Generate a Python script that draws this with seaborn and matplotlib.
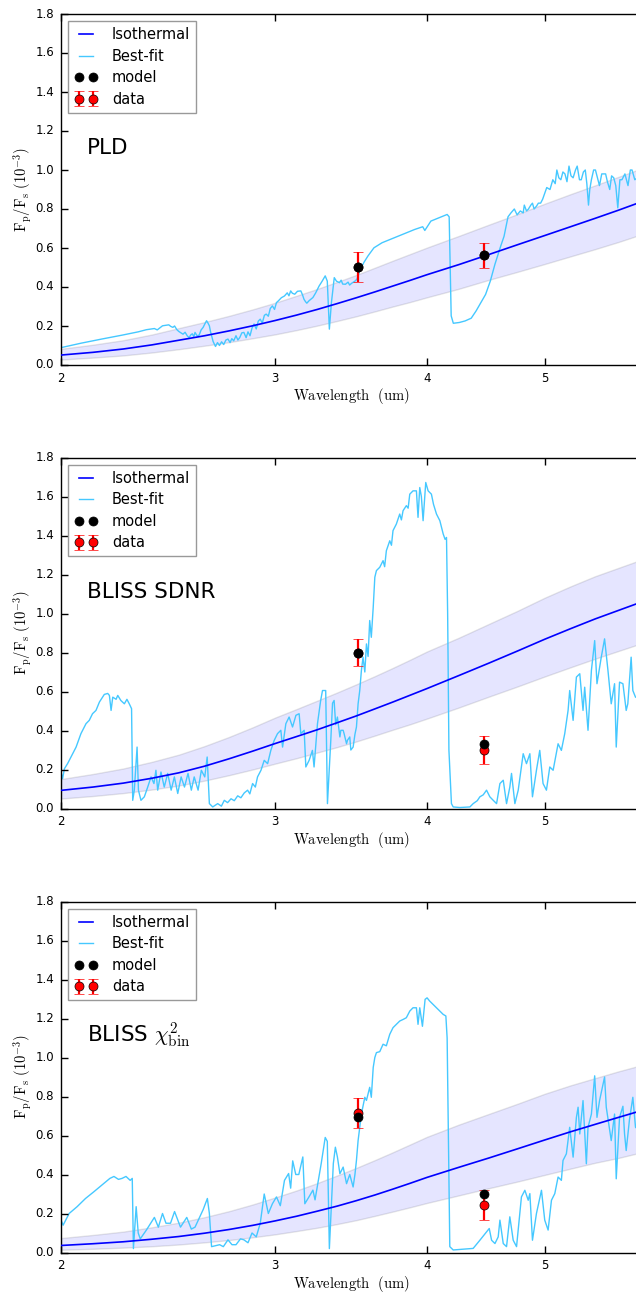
import numpy as np
import pandas as pd
import matplotlib
matplotlib.use("Agg")
import matplotlib.pyplot as plt
from matplotlib.ticker import NullLocator, FixedLocator, FixedFormatter
from matplotlib.lines import Line2D
import seaborn as sns

plt.style.use("classic")
plt.rcParams.update({
    "figure.facecolor": "white",
    "savefig.facecolor": "white",
    "font.family": ["DejaVu Sans"],
    "mathtext.fontset": "cm",
})

# ---------------------------------------------------------------- data
grid_wl = [2.0, 2.125, 2.25, 2.375, 2.5, 2.625, 2.75, 2.875, 3.0, 3.125,
           3.25, 3.375, 3.5, 3.625, 3.75, 3.875, 4.0, 4.25, 4.5, 4.75,
           5.0, 5.25, 5.5, 5.75, 6.0]

iso_pld = [.051, .065, .082, .103, .127, .150, .175, .201, .228, .256,
           .285, .315, .345, .375, .405, .434, .463, .515, .567, .617,
           .664, .709, .752, .794, .836]
iso_pld_hi = [.083, .104, .127, .156, .189, .220, .252, .285, .319, .355,
              .390, .426, .462, .499, .535, .569, .602, .662, .720, .774,
              .827, .876, .921, .965, 1.007]
iso_pld_lo = [.028, .038, .049, .064, .081, .099, .117, .137, .157, .179,
              .202, .226, .250, .275, .300, .323, .347, .391, .437, .478,
              .518, .557, .594, .631, .669]

iso_sdnr = [.093, .110, .130, .155, .183, .217, .255, .294, .333, .369,
            .404, .440, .475, .511, .546, .581, .615, .682, .746, .808,
            .868, .922, .972, 1.016, 1.058]
iso_sdnr_hi = [.151, .177, .205, .239, .276, .320, .367, .416, .466, .510,
               .553, .595, .637, .679, .721, .763, .805, .876, .947, 1.014,
               1.081, 1.139, 1.191, 1.234, 1.275]
iso_sdnr_lo = [.051, .064, .079, .097, .118, .143, .171, .200, .230, .258,
               .287, .315, .344, .374, .404, .432, .461, .518, .574, .626,
               .677, .724, .768, .808, .846]

iso_chi = [.036, .045, .055, .068, .082, .099, .118, .139, .162, .186,
           .212, .238, .266, .295, .325, .355, .385, .437, .485, .532,
           .577, .619, .657, .693, .727]
iso_chi_hi = [.074, .090, .107, .129, .153, .181, .212, .246, .282, .318,
              .356, .395, .434, .474, .514, .554, .593, .656, .711, .763,
              .814, .857, .894, .929, .960]
iso_chi_lo = [.014, .019, .025, .032, .041, .052, .064, .078, .093, .110,
              .127, .146, .166, .188, .210, .232, .254, .293, .330, .364,
              .398, .430, .460, .485, .513]

# best-fit emission spectra
spec_pld_wl = [
    2.000, 2.078, 2.160, 2.245, 2.315, 2.351, 2.387, 2.400, 2.424, 2.453,
    2.462, 2.472, 2.480, 2.491, 2.500, 2.510, 2.520, 2.530, 2.540, 2.549,
    2.558, 2.565, 2.572, 2.578, 2.588, 2.598, 2.608, 2.618, 2.626, 2.635,
    2.642, 2.649, 2.655, 2.660, 2.668, 2.680, 2.690, 2.700, 2.711, 2.722,
    2.733, 2.744, 2.755, 2.764, 2.774, 2.786, 2.796, 2.806, 2.817, 2.828,
    2.840, 2.850, 2.861, 2.872, 2.883, 2.895, 2.906, 2.917, 2.928, 2.940,
    2.950, 2.962, 2.973, 2.985, 2.997, 3.008, 3.019, 3.036, 3.054, 3.070,
    3.080, 3.090, 3.100, 3.114, 3.130, 3.150, 3.160, 3.169, 3.178, 3.186,
    3.200, 3.223, 3.240, 3.261, 3.280, 3.299, 3.312, 3.325, 3.338, 3.356,
    3.370, 3.389, 3.400, 3.410, 3.428, 3.445, 3.455, 3.468, 3.480, 3.490,
    3.503, 3.522, 3.549, 3.577, 3.618, 3.674, 3.731, 3.789, 3.848, 3.908,
    3.968, 3.984, 4.030, 4.093, 4.156, 4.172, 4.180, 4.188, 4.205, 4.253,
    4.300, 4.350, 4.390, 4.430, 4.470, 4.510, 4.550, 4.600, 4.629, 4.664,
    4.690, 4.720, 4.745, 4.774, 4.800, 4.810, 4.830, 4.847, 4.870, 4.885,
    4.900, 4.923, 4.940, 4.961, 4.980, 5.019, 5.050, 5.077, 5.100, 5.116,
    5.135, 5.155, 5.175, 5.195, 5.215, 5.235, 5.255, 5.276, 5.300, 5.317,
    5.340, 5.358, 5.380, 5.399, 5.415, 5.432, 5.445, 5.462, 5.485, 5.504,
    5.525, 5.546, 5.570, 5.611, 5.630, 5.655, 5.675, 5.698, 5.720, 5.742,
    5.765, 5.787, 5.820, 5.854, 5.880, 5.899, 5.930, 5.958, 6.000]
spec_pld = [
    .089, .112, .133, .153, .170, .181, .187, .180, .201, .206,
    .198, .193, .200, .181, .172, .165, .158, .168, .150, .141,
    .155, .160, .145, .167, .150, .153, .180, .193, .210, .227,
    .215, .201, .170, .150, .120, .095, .115, .100, .119, .105,
    .128, .133, .115, .135, .124, .150, .128, .141, .165, .167,
    .140, .170, .150, .190, .210, .185, .225, .235, .215, .255,
    .261, .250, .290, .303, .285, .320, .329, .345, .354, .370,
    .355, .380, .368, .363, .378, .380, .360, .337, .325, .317,
    .330, .346, .370, .405, .430, .457, .430, .184, .320, .448,
    .430, .422, .435, .415, .414, .425, .410, .419, .425, .430,
    .440, .482, .525, .559, .601, .627, .644, .661, .678, .695,
    .709, .690, .738, .755, .772, .760, .500, .252, .214, .218,
    .226, .240, .277, .320, .362, .430, .517, .610, .660, .760,
    .780, .800, .770, .790, .780, .820, .790, .799, .820, .830,
    .800, .815, .830, .830, .850, .910, .900, .950, .930, 1.000,
    .960, .950, .990, .980, .940, 1.020, .970, .960, 1.000, 1.020,
    .950, .950, .990, 1.000, .930, .820, .900, .950, 1.000, 1.000,
    .960, .920, .980, .980, .940, .900, .970, .960, .920, .806,
    .950, .950, .980, .920, 1.000, 1.000, .950, .960, .990]

spec_sdnr_wl = [
    2.000, 2.006, 2.013, 2.025, 2.038, 2.058, 2.077, 2.097, 2.110, 2.123,
    2.137, 2.151, 2.171, 2.185, 2.192, 2.199, 2.206, 2.220, 2.227, 2.240,
    2.255, 2.266, 2.276, 2.286, 2.291, 2.298, 2.310, 2.316, 2.327, 2.342,
    2.357, 2.372, 2.385, 2.394, 2.402, 2.417, 2.432, 2.448, 2.464, 2.479,
    2.495, 2.511, 2.527, 2.544, 2.560, 2.574, 2.593, 2.609, 2.626, 2.638,
    2.649, 2.666, 2.691, 2.710, 2.725, 2.742, 2.760, 2.777, 2.795, 2.812,
    2.830, 2.848, 2.860, 2.875, 2.890, 2.902, 2.921, 2.939, 2.958, 2.976,
    2.995, 3.014, 3.033, 3.043, 3.062, 3.081, 3.101, 3.121, 3.140, 3.150,
    3.170, 3.180, 3.200, 3.220, 3.230, 3.251, 3.270, 3.282, 3.302, 3.313,
    3.334, 3.345, 3.355, 3.365, 3.376, 3.392, 3.398, 3.413, 3.419, 3.435,
    3.441, 3.456, 3.463, 3.478, 3.490, 3.500, 3.511, 3.522, 3.533, 3.544,
    3.556, 3.567, 3.578, 3.589, 3.600, 3.613, 3.624, 3.635, 3.658, 3.681,
    3.692, 3.704, 3.728, 3.740, 3.751, 3.775, 3.799, 3.811, 3.823, 3.847,
    3.860, 3.872, 3.896, 3.921, 3.933, 3.946, 3.958, 3.971, 3.991, 4.009,
    4.034, 4.050, 4.073, 4.099, 4.125, 4.140, 4.151, 4.160, 4.170, 4.190,
    4.204, 4.257, 4.339, 4.366, 4.400, 4.422, 4.450, 4.478, 4.506, 4.535,
    4.564, 4.593, 4.622, 4.651, 4.680, 4.695, 4.725, 4.755, 4.780, 4.800,
    4.830, 4.861, 4.885, 4.922, 4.953, 4.984, 5.016, 5.048, 5.080, 5.128,
    5.160, 5.193, 5.226, 5.242, 5.276, 5.309, 5.343, 5.376, 5.393, 5.427,
    5.462, 5.496, 5.520, 5.565, 5.600, 5.636, 5.671, 5.707, 5.725, 5.761,
    5.798, 5.816, 5.834, 5.852, 5.889, 5.908, 5.938, 6.000]
spec_sdnr = [
    .187, .153, .204, .230, .264, .315, .384, .435, .452, .486,
    .503, .546, .585, .590, .580, .503, .571, .560, .580, .554,
    .537, .560, .537, .512, .042, .094, .315, .094, .042, .060,
    .110, .162, .128, .196, .094, .187, .110, .180, .094, .162,
    .077, .162, .110, .180, .094, .162, .094, .196, .162, .264,
    .025, .008, .025, .012, .042, .030, .050, .040, .065, .055,
    .080, .094, .075, .128, .110, .162, .196, .247, .230, .298,
    .349, .384, .401, .315, .435, .469, .418, .478, .486, .384,
    .401, .213, .247, .298, .213, .435, .550, .605, .605, .025,
    .349, .540, .554, .430, .469, .367, .401, .401, .384, .332,
    .350, .367, .300, .315, .380, .418, .537, .605, .708, .776,
    .700, .844, .780, .964, .878, 1.032, 1.186, 1.220, 1.237, 1.271,
    1.240, 1.322, 1.373, 1.350, 1.425, 1.459, 1.510, 1.480, 1.527, 1.553,
    1.540, 1.612, 1.629, 1.629, 1.493, 1.646, 1.600, 1.476, 1.672, 1.629,
    1.612, 1.560, 1.510, 1.476, 1.408, 1.380, 1.390, 1.000, .300, .025,
    .008, .005, .008, .025, .040, .060, .070, .094, .060, .042,
    .025, .128, .145, .025, .110, .180, .025, .094, .200, .281,
    .230, .281, .060, .196, .298, .128, .094, .213, .196, .332,
    .298, .384, .503, .605, .452, .674, .691, .503, .622, .401,
    .708, .861, .640, .776, .870, .708, .537, .640, .315, .648,
    .640, .571, .503, .537, .776, .605, .571, .560]

spec_chi_wl = [
    2.000, 2.008, 2.031, 2.062, 2.095, 2.127, 2.160, 2.194, 2.211, 2.230,
    2.245, 2.262, 2.280, 2.289, 2.294, 2.306, 2.315, 2.324, 2.351, 2.387,
    2.405, 2.424, 2.440, 2.461, 2.480, 2.508, 2.538, 2.560, 2.578, 2.600,
    2.618, 2.639, 2.649, 2.660, 2.701, 2.720, 2.744, 2.765, 2.786, 2.810,
    2.828, 2.850, 2.872, 2.895, 2.917, 2.939, 2.962, 2.985, 3.008, 3.030,
    3.054, 3.078, 3.090, 3.102, 3.120, 3.138, 3.162, 3.174, 3.199, 3.223,
    3.236, 3.274, 3.299, 3.312, 3.325, 3.350, 3.363, 3.376, 3.392, 3.413,
    3.435, 3.456, 3.478, 3.490, 3.500, 3.511, 3.522, 3.533, 3.556, 3.567,
    3.589, 3.600, 3.613, 3.624, 3.635, 3.658, 3.681, 3.704, 3.728, 3.751,
    3.775, 3.799, 3.823, 3.847, 3.872, 3.896, 3.921, 3.933, 3.946, 3.966,
    3.986, 4.001, 4.020, 4.047, 4.073, 4.099, 4.125, 4.146, 4.156, 4.177,
    4.204, 4.366, 4.422, 4.478, 4.501, 4.521, 4.550, 4.578, 4.593, 4.622,
    4.651, 4.680, 4.710, 4.740, 4.784, 4.815, 4.846, 4.861, 4.885, 4.922,
    4.969, 5.000, 5.032, 5.064, 5.096, 5.128, 5.160, 5.176, 5.209, 5.242,
    5.276, 5.309, 5.326, 5.343, 5.376, 5.410, 5.427, 5.462, 5.496, 5.520,
    5.547, 5.600, 5.618, 5.671, 5.707, 5.725, 5.761, 5.798, 5.816, 5.834,
    5.870, 5.908, 5.938, 6.000]
spec_chi = [
    .167, .140, .200, .235, .277, .310, .345, .380, .390, .375,
    .380, .390, .370, .380, .020, .235, .100, .070, .115, .180,
    .130, .200, .150, .150, .210, .130, .180, .120, .130, .180,
    .220, .277, .200, .030, .040, .030, .065, .040, .040, .070,
    .065, .050, .100, .080, .150, .300, .200, .250, .285, .240,
    .370, .405, .330, .470, .400, .400, .490, .250, .285, .320,
    .270, .456, .590, .570, .020, .456, .540, .490, .404, .438,
    .353, .400, .336, .400, .472, .574, .642, .710, .796, .780,
    .847, .796, .949, 1.000, 1.025, 1.030, 1.068, 1.060, 1.119, 1.153,
    1.170, 1.187, 1.195, 1.204, 1.238, 1.255, 1.255, 1.170, 1.255, 1.160,
    1.298, 1.306, 1.290, 1.272, 1.255, 1.238, 1.221, 1.213, 1.100, .030,
    .013, .021, .063, .106, .123, .063, .046, .080, .166, .046,
    .030, .183, .063, .030, .285, .319, .268, .302, .063, .200,
    .319, .166, .115, .268, .302, .387, .370, .472, .506, .642,
    .489, .693, .745, .608, .779, .455, .642, .710, .906, .693,
    .779, .900, .745, .574, .710, .378, .693, .750, .608, .523,
    .680, .796, .642, .620]

# Spitzer photometry: measured eclipse depths and binned model values
phot_wl = [3.51, 4.46]
data_pld = [0.501, 0.562]
err_pld = [0.077, 0.063]
model_pld = [0.503, 0.562]
data_sdnr = [0.800, 0.300]
err_sdnr = [0.068, 0.072]
model_sdnr = [0.800, 0.329]
data_chi = [0.715, 0.246]
err_chi = [0.078, 0.077]
model_chi = [0.697, 0.299]

panels = [
    ("PLD", iso_pld, iso_pld_lo, iso_pld_hi, spec_pld_wl, spec_pld,
     data_pld, err_pld, model_pld),
    ("BLISS SDNR", iso_sdnr, iso_sdnr_lo, iso_sdnr_hi, spec_sdnr_wl, spec_sdnr,
     data_sdnr, err_sdnr, model_sdnr),
    (r"BLISS $\chi^2_{\rm bin}$", iso_chi, iso_chi_lo, iso_chi_hi, spec_chi_wl,
     spec_chi, data_chi, err_chi, model_chi),
]

# ---------------------------------------------------------------- figure
fig = plt.figure(figsize=(6.36, 12.95), dpi=100)
W, H = 636.0, 1295.0
left, width, height = 61 / W, 580 / W, 351 / H
bottoms = [(H - 365) / H, (H - 808.5) / H, (H - 1252.5) / H]

iso_color = "#0000ff"
fit_color = "#45c8ff"

for (name, iso, lo, hi, swl, sval, dat, err, mod), b in zip(panels, bottoms):
    ax = fig.add_axes([left, b, width, height])
    ax.fill_between(grid_wl, lo, hi, facecolor="blue", edgecolor="black",
                    alpha=0.1, lw=1.0, zorder=1)
    sns.lineplot(x=grid_wl, y=iso, ax=ax, color=iso_color, lw=1.2,
                 sort=False, estimator=None, legend=False, zorder=3)
    sns.lineplot(x=swl, y=sval, ax=ax, color=fit_color, lw=1.0,
                 sort=False, estimator=None, legend=False, zorder=2)
    eb = ax.errorbar(phot_wl, dat, yerr=err, fmt="o", color="red",
                     ecolor="red", mec="k", mew=0.5, ms=6.5, elinewidth=1.6,
                     capsize=3.5, capthick=1.2, zorder=4)
    mline, = ax.plot(phot_wl, mod, "o", color="black", mec="k", ms=6.5,
                     zorder=5)

    ax.set_xscale("log")
    ax.set_xlim(2.0, 6.0)
    ax.set_ylim(0.0, 1.8)
    ax.xaxis.set_major_locator(FixedLocator([2, 3, 4, 5]))
    ax.xaxis.set_major_formatter(FixedFormatter(["2", "3", "4", "5"]))
    ax.xaxis.set_minor_locator(NullLocator())
    ax.set_yticks(np.arange(0, 1.81, 0.2))
    ax.set_yticklabels([f"{v:.1f}" for v in np.arange(0, 1.81, 0.2)])
    ax.tick_params(which="major", direction="in", length=5, width=1,
                   top=True, right=False, labelsize=8.5, pad=5)
    for sp in ax.spines.values():
        sp.set_linewidth(1.0)

    ax.set_xlabel(r"$\mathrm{Wavelength\ \ (um)}$", fontsize=10.5, labelpad=1)
    ax.set_ylabel(r"$\mathrm{F_p/F_s\ (10^{-3})}$", fontsize=10.5, labelpad=1)

    ax.text(0.045, 0.60, name, transform=ax.transAxes, fontsize=15.5,
            ha="left", va="baseline")

    handles = [
        Line2D([], [], color=iso_color, lw=1.2),
        Line2D([], [], color=fit_color, lw=1.0),
        mline,
        eb,
    ]
    leg = ax.legend(handles, ["Isothermal", "Best-fit", "model", "data"],
                    loc="upper left", fontsize=10.5, numpoints=2,
                    handlelength=1.6, handletextpad=1.0, labelspacing=0.45,
                    borderaxespad=0.5, borderpad=0.4, fancybox=False,
                    frameon=True)
    leg.get_frame().set_edgecolor("0.6")
    leg.get_frame().set_linewidth(1.0)

fig.savefig("out.png", dpi=100)
